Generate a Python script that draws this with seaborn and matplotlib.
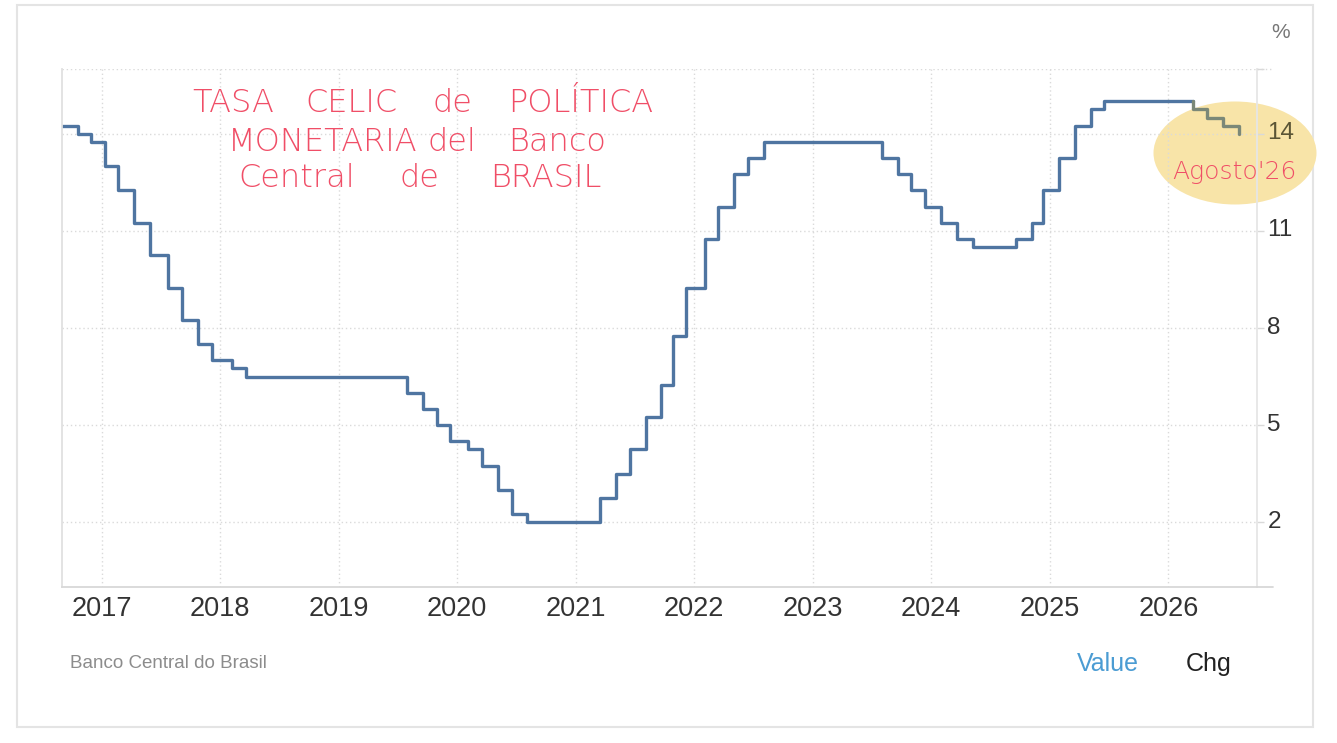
import numpy as np
import pandas as pd
import matplotlib
matplotlib.use("Agg")
import matplotlib.pyplot as plt
import matplotlib.dates as mdates
import matplotlib.transforms as mtransforms
from matplotlib.patches import Ellipse, Rectangle
from matplotlib.lines import Line2D
import seaborn as sns

# ---------------- data ----------------
actual_dates = [
    "2016-09-01", "2016-10-19", "2016-11-30", "2017-01-11", "2017-02-22",
    "2017-04-12", "2017-05-31", "2017-07-26", "2017-09-06", "2017-10-25",
    "2017-12-06", "2018-02-07", "2018-03-21", "2019-07-31", "2019-09-18",
    "2019-10-30", "2019-12-11", "2020-02-05", "2020-03-18", "2020-05-06",
    "2020-06-17", "2020-08-05", "2021-03-17", "2021-05-05", "2021-06-16",
    "2021-08-04", "2021-09-22", "2021-10-27", "2021-12-08", "2022-02-02",
    "2022-03-16", "2022-05-04", "2022-06-15", "2022-08-03", "2023-08-02",
    "2023-09-20", "2023-11-01", "2023-12-13", "2024-01-31", "2024-03-20",
    "2024-05-08", "2024-09-18", "2024-11-06", "2024-12-11", "2025-01-29",
    "2025-03-19", "2025-05-07", "2025-06-18", "2026-03-18",
]
actual_rates = [
    14.25, 14.00, 13.75, 13.00, 12.25,
    11.25, 10.25, 9.25, 8.25, 7.50,
    7.00, 6.75, 6.50, 6.00, 5.50,
    5.00, 4.50, 4.25, 3.75, 3.00,
    2.25, 2.00, 2.75, 3.50, 4.25,
    5.25, 6.25, 7.75, 9.25, 10.75,
    11.75, 12.75, 13.25, 13.75, 13.25,
    12.75, 12.25, 11.75, 11.25, 10.75,
    10.50, 10.75, 11.25, 12.25, 13.25,
    14.25, 14.75, 15.00, 15.00,
]
forecast_dates = ["2026-03-18", "2026-04-29", "2026-06-17", "2026-08-05"]
forecast_rates = [14.75, 14.50, 14.25, 14.00]

year_ticks = list(range(2017, 2027))
y_ticks = [2, 5, 8, 11, 14]
note_words = [["TASA", "CELIC", "de", "POLÍTICA"],
              ["MONETARIA", "del", "Banco"],
              ["Central", "de", "BRASIL"]]
note_month = "Agosto'26"
source_text = "Banco Central do Brasil"

# ---------------- style ----------------
sns.set_theme(style="white")
plt.rcParams['font.family'] = ['Liberation Sans', 'DejaVu Sans']

W, H = 1337, 743
fig = plt.figure(figsize=(W / 100, H / 100), dpi=100)
fig.patch.set_facecolor('white')


def fx(px):
    return px / W


def fy(py):
    return 1 - py / H


ax = fig.add_axes([fx(62), fy(587), fx(1257) - fx(62), fy(69) - fy(587)])
ax.set_facecolor('none')

# highlighter ellipse (drawn beneath the axes content)
fig.add_artist(Ellipse((fx(1235), fy(153)), width=163 / W, height=103 / H,
                       transform=fig.transFigure, facecolor='#f8e4a8',
                       edgecolor='none', zorder=-1))

# outer frame
fig.add_artist(Rectangle((fx(17), fy(727)), fx(1313) - fx(17), fy(5) - fy(727),
                         transform=fig.transFigure, fill=False,
                         edgecolor='#e4e4e4', linewidth=1.5, zorder=-2))

# ---------------- lines ----------------
df_a = pd.DataFrame({'date': pd.to_datetime(actual_dates), 'rate': actual_rates})
sns.lineplot(data=df_a, x='date', y='rate', ax=ax, drawstyle='steps-post',
             color='#4f75a1', linewidth=2.4, estimator=None, sort=False)

f_dates = pd.to_datetime([actual_dates[-1]] + forecast_dates)
f_rates = [actual_rates[-1]] + forecast_rates
df_f = pd.DataFrame({'date': f_dates, 'rate': f_rates})
sns.lineplot(data=df_f, x='date', y='rate', ax=ax, drawstyle='steps-post',
             color='#7b8878', linewidth=2.4, estimator=None, sort=False)

# ---------------- axes ----------------
ax.set_xlim(mdates.date2num(pd.Timestamp('2016-09-01')),
            mdates.date2num(pd.Timestamp('2026-10-01')))
ax.set_ylim(0, 16)
ax.set_xticks([mdates.date2num(pd.Timestamp(f'{y}-01-01')) for y in year_ticks])
ax.set_xticklabels([str(y) for y in year_ticks])
ax.set_yticks(y_ticks + [16])
ax.set_yticklabels([str(v) for v in y_ticks] + [''])
ax.yaxis.tick_right()
ax.set_xlabel('')
ax.set_ylabel('')

ax.grid(True, color='#dadada', linestyle=(0, (1, 2)), linewidth=1)
ax.spines['top'].set_visible(False)
ax.spines['left'].set_color('#e0e0e0')
ax.spines['left'].set_linewidth(1.3)
ax.spines['bottom'].set_color('#d8d8d8')
ax.spines['bottom'].set_linewidth(1.3)
ax.spines['right'].set_color('#e6e6e6')
ax.spines['right'].set_linewidth(1.3)

ax.tick_params(axis='x', length=0, pad=6.5, labelsize=19.5, labelcolor='#333333')
ax.tick_params(axis='y', which='both', right=True, left=False, length=5,
               width=1, color='#d9d9d9', pad=2.5, labelsize=17.5,
               labelcolor='#333333')

offset = mtransforms.ScaledTranslation(0, 0.03, fig.dpi_scale_trans)
for lab in ax.get_yticklabels():
    lab.set_transform(lab.get_transform() + offset)
    if lab.get_text() == '14':
        lab.set_color('#5b5535')

# extensions of the top grid line and the base line past the right edge
fig.add_artist(Line2D([fx(1257), fx(1273)], [fy(587), fy(587)],
                      transform=fig.transFigure, color='#d8d8d8', linewidth=1.3))
fig.add_artist(Line2D([fx(1257), fx(1273)], [fy(69), fy(69)],
                      transform=fig.transFigure, color='#dadada',
                      linewidth=1, linestyle=(0, (1, 2))))

# ---------------- texts ----------------
fig.text(fx(1281), fy(33), '%', ha='center', va='center', fontsize=15,
         color='#777777')
fig.text(fx(70), fy(664), source_text, ha='left', va='center', fontsize=13.5,
         color='#8c8c8c')
fig.text(fx(1077), fy(664), 'Value', ha='left', va='center', fontsize=18,
         color='#4b9cd3')
fig.text(fx(1186), fy(664), 'Chg', ha='left', va='center', fontsize=18,
         color='#222222')

# handwritten-style note, word by word
red = '#f04e67'
word_x = [[192, 305, 433, 508],
          [228, 428, 508],
          [238, 400, 490]]
line_y = [103, 142, 178]
for words, xs, py in zip(note_words, word_x, line_y):
    for w, px in zip(words, xs):
        fig.text(fx(px), fy(py), w, ha='left', va='center', fontsize=23,
                 color=red, family=['DejaVu Sans'], fontweight='ultralight')
fig.text(fx(1234), fy(172), note_month, ha='center', va='center', fontsize=18,
         color=red, family=['DejaVu Sans'], fontweight='ultralight')

fig.savefig('out.png', dpi=100, facecolor='white')
